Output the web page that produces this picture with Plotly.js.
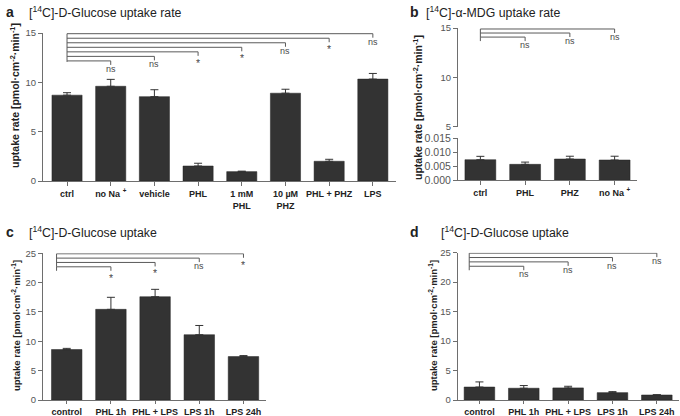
<!DOCTYPE html>
<html><head><meta charset="utf-8">
<script src="https://cdn.plot.ly/plotly-3.0.1.min.js"></script>
<style>html,body{margin:0;padding:0;background:#fff}#chart{width:680px;height:416px}</style>
</head><body><div id="chart"></div>
<script>
// ---------- Panel a ----------
const aCats = ['ctrl', 'no Na <sup>+</sup>', 'vehicle', 'PHL', '1 mM<br>PHL', '10 µM<br>PHZ', 'PHL + PHZ', 'LPS'];
const aMean = [8.7, 9.6, 8.55, 1.52, 0.95, 8.9, 2.0, 10.33];
const aSem  = [0.25, 0.7, 0.7, 0.28, 0.05, 0.4, 0.2, 0.57];
const aSigTarget = [7, 6, 5, 4, 3, 2, 1];
const aSigLabel  = ['ns', '*', 'ns', '*', '*', 'ns', 'ns'];
// ---------- Panel b ----------
const bCats = ['ctrl', 'PHL', 'PHZ', 'no Na <sup>+</sup>'];
const bMean = [0.00736, 0.0057, 0.0076, 0.00725];
const bSem  = [0.0012, 0.0008, 0.001, 0.00135];
const bSigTarget = [3, 2, 1];
const bSigLabel  = ['ns', 'ns', 'ns'];
// ---------- Panel c ----------
const cCats = ['control', 'PHL 1h', 'PHL + LPS', 'LPS 1h', 'LPS 24h'];
const cMean = [8.6, 15.45, 17.6, 11.13, 7.4];
const cSem  = [0.2, 2.05, 1.26, 1.57, 0.17];
const cSigTarget = [4, 3, 2, 1];
const cSigLabel  = ['*', 'ns', '*', '*'];
// ---------- Panel d ----------
const dCats = ['control', 'PHL 1h', 'PHL + LPS', 'LPS 1h', 'LPS 24h'];
const dMean = [2.2, 2.0, 2.05, 1.25, 0.85];
const dSem  = [0.87, 0.45, 0.28, 0.17, 0.05];
const dSigTarget = [4, 3, 2, 1];
const dSigLabel  = ['ns', 'ns', 'ns', 'ns'];

const W = 680, H = 416;
const FONT = 'Liberation Sans, Arial, sans-serif';
const BAR = '#333333', AX = '#6e6e6e', SIG = '#5a5a5a';
const fx = p => p / W, fy = p => 1 - p / H;

function bars(cats, mean, sem, xa, ya) {
  return {
    type: 'bar', x: cats, y: mean, xaxis: xa, yaxis: ya, width: 0.69,
    marker: {color: BAR, line: {color: '#222', width: 0.5}},
    error_y: {type: 'data', symmetric: false, array: sem, arrayminus: sem.map(() => 0),
              color: '#333', thickness: 1, width: 4},
    hoverinfo: 'skip', showlegend: false
  };
}

const data = [
  bars(aCats, aMean, aSem, 'x', 'y'),
  {type: 'scatter', mode: 'markers', x: bCats, y: bCats.map(() => null), xaxis: 'x2', yaxis: 'y2',
   showlegend: false, hoverinfo: 'skip'},
  bars(bCats, bMean, bSem, 'x2', 'y3'),
  bars(cCats, cMean, cSem, 'x3', 'y4'),
  bars(dCats, dMean, dSem, 'x4', 'y5')
];

const shapes = [], annotations = [];
function sig(cfg) {
  const n = cfg.targets.length;
  const lv = i => cfg.top - i * cfg.step;
  shapes.push({type: 'line', xref: cfg.xref, yref: cfg.yref, x0: cfg.start, x1: cfg.start,
    y0: lv(0), y1: lv(n - 1), line: {color: SIG, width: 1}});
  shapes.push({type: 'line', xref: cfg.xref, yref: cfg.yref, ysizemode: 'pixel', yanchor: lv(n - 1),
    x0: cfg.start, x1: cfg.start, y0: 0, y1: -cfg.tick, line: {color: SIG, width: 1}});
  cfg.targets.forEach((t, i) => {
    shapes.push({type: 'line', xref: cfg.xref, yref: cfg.yref, x0: cfg.start, x1: t,
      y0: lv(i), y1: lv(i), line: {color: SIG, width: 1}});
    shapes.push({type: 'line', xref: cfg.xref, yref: cfg.yref, ysizemode: 'pixel', yanchor: lv(i),
      x0: t, x1: t, y0: 0, y1: -4, line: {color: SIG, width: 1}});
    const star = cfg.labels[i] === '*';
    annotations.push({xref: cfg.xref, yref: cfg.yref, x: t, y: lv(i), yanchor: 'top', xanchor: 'center',
      yshift: star ? -3 : -1, text: cfg.labels[i], showarrow: false,
      font: {family: FONT, size: star ? 10.5 : 9, color: '#4a4a4a'}});
  });
}
sig({xref: 'x', yref: 'y', start: 0, targets: aSigTarget, labels: aSigLabel, top: 14.93, step: 0.46, tick: 1});
sig({xref: 'x2', yref: 'y2', start: 0, targets: bSigTarget, labels: bSigLabel, top: 14.9, step: 0.41, tick: 4});
sig({xref: 'x3', yref: 'y4', start: -0.23, targets: cSigTarget, labels: cSigLabel, top: 24.92, step: 0.74, tick: 4});
sig({xref: 'x4', yref: 'y5', start: -0.23, targets: dSigTarget, labels: dSigLabel, top: 24.92, step: 0.74, tick: 4});

function label(txt, px, py) {
  annotations.push({xref: 'paper', yref: 'paper', x: fx(px), y: fy(py), xanchor: 'left', yanchor: 'middle',
    text: '<b>' + txt + '</b>', showarrow: false, font: {family: FONT, size: 14, color: '#222'}});
}
function title(txt, px, py) {
  annotations.push({xref: 'paper', yref: 'paper', x: fx(px), y: fy(py), xanchor: 'left', yanchor: 'middle',
    text: txt, showarrow: false, font: {family: FONT, size: 12.3, color: '#222'}});
}
function ylab(px, py, size) {
  annotations.push({xref: 'paper', yref: 'paper', x: fx(px), y: fy(py), xanchor: 'center', yanchor: 'middle',
    textangle: -90, text: '<b>uptake rate [pmol·cm<sup>-2</sup>·min<sup>-1</sup>]</b>', showarrow: false,
    font: {family: FONT, size: size, color: '#222'}});
}
label('a', 4, 12); title('[<sup>14</sup>C]-D-Glucose uptake rate', 27, 12);
label('b', 408, 12); title('[<sup>14</sup>C]-α-MDG uptake rate', 424, 12);
label('c', 4, 232); title('[<sup>14</sup>C]-D-Glucose uptake', 27, 232);
label('d', 408, 232); title('[<sup>14</sup>C]-D-Glucose uptake', 439, 232);
ylab(14, 96, 10.5); ylab(418, 108, 10.5); ylab(16, 326, 9.5); ylab(433, 326, 9.5);

const tickF = {family: FONT, size: 9.5, color: '#555'};
const catF = {family: FONT, size: 9, color: '#222', weight: 'bold'};
function xax(d0, d1, anchor, r, tl) {
  return {domain: [fx(d0), fx(d1)], anchor: anchor, type: 'category', range: r,
    showline: true, linecolor: AX, linewidth: 1, ticks: 'outside', ticklen: tl || 4, tickcolor: AX,
    showgrid: false, zeroline: false, tickfont: catF, fixedrange: true};
}
function yax(p0, p1, anchor, r, extra) {
  return Object.assign({domain: [fy(p0), fy(p1)], anchor: anchor, range: r,
    showline: true, linecolor: AX, linewidth: 1, ticks: 'outside', ticklen: 4, tickcolor: AX,
    showgrid: false, zeroline: false, tickfont: tickF, fixedrange: true}, extra || {});
}

const layout = {
  width: W, height: H, margin: {l: 0, r: 0, t: 0, b: 0},
  paper_bgcolor: '#fff', plot_bgcolor: 'rgba(0,0,0,0)', showlegend: false, bargap: 0,
  font: {family: FONT},
  xaxis:  xax(43, 396, 'y', [-0.55, 7.53]),
  yaxis:  yax(181, 33, 'x', [0, 15], {tickvals: [0, 5, 10, 15]}),
  xaxis2: xax(458, 637, 'y3', [-0.5, 3.5]),
  yaxis2: yax(126.7, 28, 'x2', [5, 15], {tickvals: [5, 10, 15]}),
  yaxis3: yax(180.3, 138.3, 'x2', [0, 0.015], {tickvals: [0, 0.005, 0.01, 0.015], tickformat: '.3f',
           tickfont: {family: FONT, size: 10.5, color: '#555'}}),
  xaxis3: xax(43, 266, 'y4', [-0.537, 4.51], 3),
  yaxis4: yax(400, 253.3, 'x3', [0, 25], {tickvals: [0, 5, 10, 15, 20, 25]}),
  xaxis4: xax(457.7, 679, 'y5', [-0.49, 4.5], 3),
  yaxis5: yax(400, 252.7, 'x4', [0, 25], {tickvals: [0, 5, 10, 15, 20, 25]}),
  shapes: shapes, annotations: annotations
};
Plotly.newPlot('chart', data, layout, {staticPlot: true, displayModeBar: false});
</script></body></html>
